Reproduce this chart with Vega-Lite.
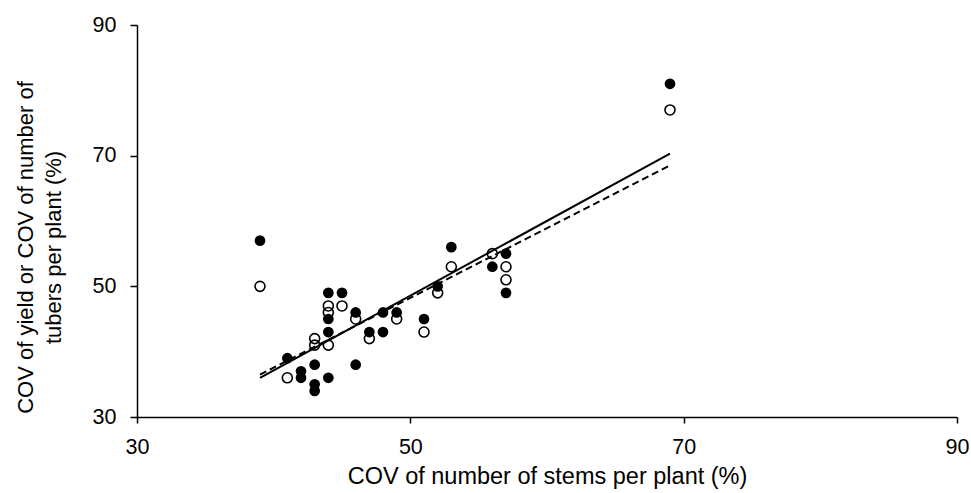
{
  "$schema": "https://vega.github.io/schema/vega-lite/v6.json",
  "width": 820,
  "height": 392,
  "autosize": "none",
  "padding": {"left": 137, "top": 25, "right": 14, "bottom": 76},
  "background": "white",
  "config": {
    "view": {"stroke": null},
    "font": "Liberation Sans",
    "axis": {
      "grid": false,
      "domainColor": "black",
      "domainWidth": 1.5,
      "tickColor": "black",
      "tickWidth": 1.5,
      "labelColor": "black",
      "titleColor": "black",
      "labelFont": "Liberation Sans",
      "titleFont": "Liberation Sans",
      "labelFontSize": 21.5,
      "titleFontSize": 23,
      "titleFontWeight": "normal"
    }
  },
  "datasets": {
    "yieldPts": [
      {"stems": 39, "cov": 57}, {"stems": 41, "cov": 39}, {"stems": 42, "cov": 37}, {"stems": 42, "cov": 36},
      {"stems": 43, "cov": 38}, {"stems": 43, "cov": 35}, {"stems": 43, "cov": 34}, {"stems": 44, "cov": 36},
      {"stems": 44, "cov": 43}, {"stems": 44, "cov": 45}, {"stems": 44, "cov": 49}, {"stems": 45, "cov": 49},
      {"stems": 46, "cov": 38}, {"stems": 46, "cov": 46}, {"stems": 47, "cov": 43}, {"stems": 48, "cov": 46},
      {"stems": 48, "cov": 43}, {"stems": 49, "cov": 46}, {"stems": 51, "cov": 45}, {"stems": 52, "cov": 50},
      {"stems": 53, "cov": 56}, {"stems": 56, "cov": 53}, {"stems": 57, "cov": 55}, {"stems": 57, "cov": 49},
      {"stems": 69, "cov": 81}
    ],
    "tuberPts": [
      {"stems": 39, "cov": 50}, {"stems": 41, "cov": 36}, {"stems": 43, "cov": 42}, {"stems": 43, "cov": 41},
      {"stems": 44, "cov": 41}, {"stems": 44, "cov": 46}, {"stems": 44, "cov": 47}, {"stems": 45, "cov": 47},
      {"stems": 46, "cov": 45}, {"stems": 47, "cov": 42}, {"stems": 49, "cov": 45}, {"stems": 51, "cov": 43},
      {"stems": 52, "cov": 49}, {"stems": 53, "cov": 53}, {"stems": 56, "cov": 55}, {"stems": 57, "cov": 53},
      {"stems": 57, "cov": 51}, {"stems": 69, "cov": 77}
    ],
    "yieldFit": [{"stems": 39, "cov": 36.0}, {"stems": 69, "cov": 70.3}],
    "tuberFit": [{"stems": 39, "cov": 36.5}, {"stems": 69, "cov": 68.5}]
  },
  "encoding": {
    "x": {
      "field": "stems", "type": "quantitative",
      "scale": {"domain": [30, 90], "nice": false, "zero": false},
      "axis": {
        "title": "COV of number of stems per plant (%)",
        "titleFontSize": 23.5,
        "values": [30, 50, 70, 90],
        "tickSize": 6,
        "labelPadding": 13,
        "labelFlush": false,
        "titleBaseline": "alphabetic",
        "titleY": 66
      }
    },
    "y": {
      "field": "cov", "type": "quantitative",
      "scale": {"domain": [30, 90], "nice": false, "zero": false},
      "axis": {
        "title": ["COV of yield or COV of number of", "tubers per plant (%)"],
        "titleFontSize": 22,
        "values": [30, 50, 70, 90],
        "tickSize": 7,
        "labelPadding": 14,
        "labelFlush": false,
        "titleBaseline": "alphabetic",
        "titleLineHeight": 28,
        "titleX": -105,
        "titleY": 222,
        "titleAngle": -90
      }
    }
  },
  "layer": [
    {
      "data": {"name": "tuberPts"},
      "mark": {"type": "point", "shape": "circle", "filled": false, "stroke": "black", "strokeWidth": 1.6, "size": 100, "opacity": 1}
    },
    {
      "data": {"name": "yieldPts"},
      "mark": {"type": "circle", "color": "black", "size": 115, "opacity": 1}
    },
    {
      "data": {"name": "yieldFit"},
      "mark": {"type": "line", "color": "black", "strokeWidth": 2}
    },
    {
      "data": {"name": "tuberFit"},
      "mark": {"type": "line", "color": "black", "strokeWidth": 2, "strokeDash": [7, 4]}
    }
  ]
}
